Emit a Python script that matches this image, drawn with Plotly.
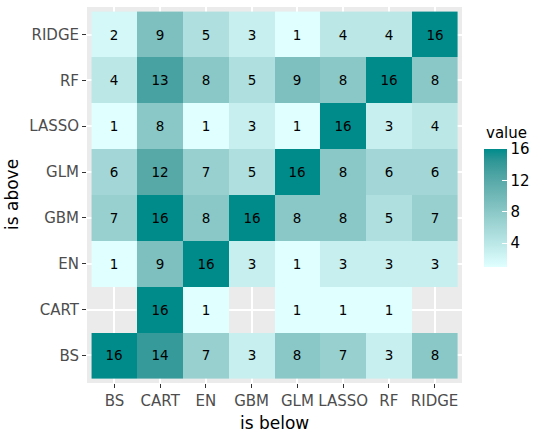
import numpy as np
import plotly.graph_objects as go

models = ['BS', 'CART', 'EN', 'GBM', 'GLM', 'LASSO', 'RF', 'RIDGE']

# rows = "is above", columns = "is below"
row_bs = [16, 14, 7, 3, 8, 7, 3, 8]
row_cart = [None, 16, 1, None, 1, 1, 1, None]
row_en = [1, 9, 16, 3, 1, 3, 3, 3]
row_gbm = [7, 16, 8, 16, 8, 8, 5, 7]
row_glm = [6, 12, 7, 5, 16, 8, 6, 6]
row_lasso = [1, 8, 1, 3, 1, 16, 3, 4]
row_rf = [4, 13, 8, 5, 9, 8, 16, 8]
row_ridge = [2, 9, 5, 3, 1, 4, 4, 16]

z = [row_bs, row_cart, row_en, row_gbm, row_glm, row_lasso, row_rf, row_ridge]

def srgb_to_lab(c):
  c = np.array(c)/255.0
  c = np.where(c > 0.04045, ((c+0.055)/1.055)**2.4, c/12.92)
  m = np.array([[0.4124, 0.3576, 0.1805], [0.2126, 0.7152, 0.0722], [0.0193, 0.1192, 0.9505]])
  xyz = m.dot(c)/np.array([0.95047, 1.0, 1.08883])
  f = np.where(xyz > 0.008856, np.cbrt(xyz), 7.787*xyz+16/116)
  return np.array([116*f[1]-16, 500*(f[0]-f[1]), 200*(f[1]-f[2])])

def lab_to_srgb(lab):
  fy = (lab[0]+16)/116
  fx = fy+lab[1]/500
  fz = fy-lab[2]/200
  f = np.array([fx, fy, fz])
  xyz = np.where(f**3 > 0.008856, f**3, (f-16/116)/7.787)*np.array([0.95047, 1.0, 1.08883])
  m = np.array([[3.2406, -1.5372, -0.4986], [-0.9689, 1.8758, 0.0415], [0.0557, -0.2040, 1.0570]])
  c = m.dot(xyz)
  c = np.where(c > 0.0031308, 1.055*np.clip(c, 0, None)**(1/2.4)-0.055, 12.92*c)
  c = np.clip(c, 0, 1)*255
  return 'rgb(%d,%d,%d)' % tuple(np.round(c))

# ggplot-like gradient (lightcyan -> darkcyan, interpolated in Lab)
lo = srgb_to_lab([224, 255, 255])
hi = srgb_to_lab([0, 139, 139])
cscale = [[t, lab_to_srgb(lo+(hi-lo)*t)] for t in np.linspace(0, 1, 11)]

text = [['' if v is None else str(v) for v in r] for r in z]

fig = go.Figure(go.Heatmap(
  z=z, x=models, y=models,
  zmin=1, zmax=16,
  colorscale=cscale,
  text=text, texttemplate='%{text}',
  textfont=dict(size=13.5, color='black', family='DejaVu Sans'),
  hoverongaps=False,
  colorbar=dict(
    x=1.059, xanchor='left', xpad=0, ypad=0,
    y=0.466, yanchor='middle',
    thickness=23, len=118, lenmode='pixels',
    outlinewidth=0,
    tickvals=[4, 8, 12, 16],
    ticks='inside', ticklen=5, tickcolor='white', tickwidth=1,
    tickfont=dict(size=15, color='black'),
  ),
))

axis_common = dict(
  type='category', categoryorder='array', categoryarray=models,
  range=[-0.6, 7.6],
  showgrid=True, gridcolor='white', gridwidth=1.5,
  zeroline=False, automargin=False,
  ticks='outside', ticklen=4, tickcolor='#333333',
  tickfont=dict(size=15, color='#4D4D4D'),
)

fig.update_layout(
  width=550, height=434,
  margin=dict(l=87, r=88, t=7, b=51),
  plot_bgcolor='#EBEBEB', paper_bgcolor='white',
  font=dict(family='DejaVu Sans'),
  xaxis=axis_common,
  yaxis=axis_common,
  annotations=[
    dict(text='is below', xref='paper', yref='paper', x=0.5, y=-0.106, yanchor='middle',
         showarrow=False, font=dict(size=17, color='black')),
    dict(text='is above', xref='paper', yref='paper', x=-0.2, y=0.5, xanchor='center',
         textangle=-90, showarrow=False, font=dict(size=17, color='black')),
    dict(text='value', xref='paper', yref='paper', x=1.059, y=0.665, xanchor='left',
         yanchor='middle', showarrow=False, font=dict(size=15, color='black')),
  ],
)

fig.write_html('out.html', config={'displayModeBar': False},
               post_script="document.body.style.margin='0';")
